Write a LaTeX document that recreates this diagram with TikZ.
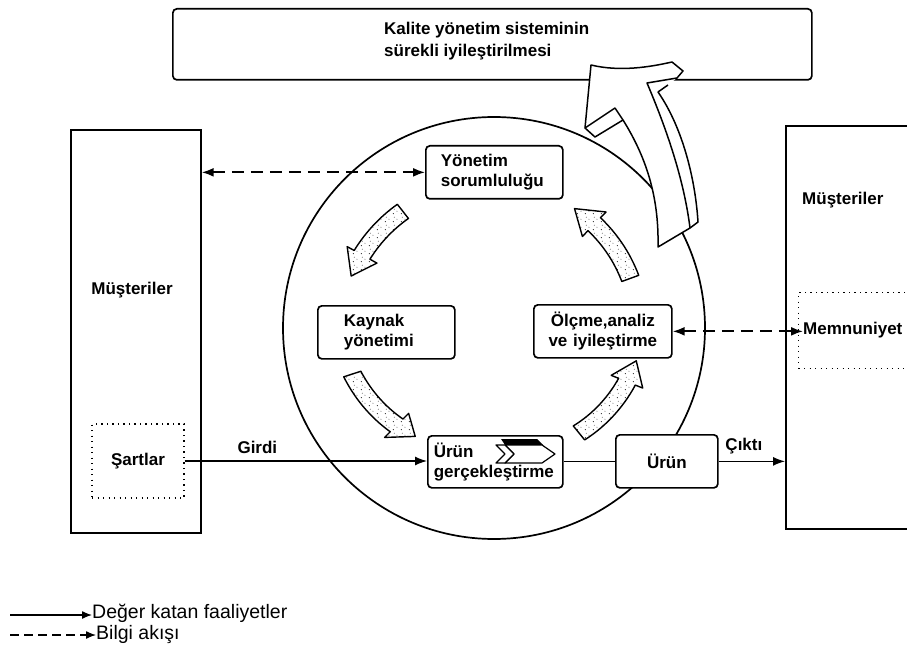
\documentclass[tikz,border=0pt]{standalone}
\usepackage{fontspec}
\setmainfont{Liberation Sans}
\usetikzlibrary{arrows.meta,patterns.meta}

\newcommand\boxfont{\fontsize{17}{20}\selectfont\bfseries}
\newcommand\titlefont{\fontsize{17}{22}\selectfont\bfseries}
\newcommand\keyfont{\fontsize{19.5}{23}\selectfont}

% sparse stipple used inside the curved cycle arrows
\tikzdeclarepattern{
  name=stipple,
  type=uncolored,
  bounding box={(0pt,0pt) and (8pt,8pt)},
  tile size={(8pt,8pt)},
  code={
    \pgfpathcircle{\pgfqpoint{1.5pt}{1.5pt}}{0.6pt}
    \pgfpathcircle{\pgfqpoint{5.5pt}{4.2pt}}{0.5pt}
    \pgfpathcircle{\pgfqpoint{2.6pt}{6.4pt}}{0.45pt}
    \pgfusepath{fill}
  }
}

% curved block arrow around the ring centre:
% #1 tail angle, #2 head-base angle, #3 tip angle, #4 tail radius, #5 tip radius
\newcommand\fatarc[5]{%
  \draw[stipplearrow]
    plot[domain=#1:#2, samples=16] ({\x}:{#4+(#5-#4)*(\x-(#1))/((#3)-(#1))+9})
    -- ({#2}:{#4+(#5-#4)*((#2)-(#1))/((#3)-(#1))+17})
    -- ({#3}:{#5})
    -- ({#2}:{#4+(#5-#4)*((#2)-(#1))/((#3)-(#1))-17})
    -- plot[domain=#2:#1, samples=16] ({\x}:{#4+(#5-#4)*(\x-(#1))/((#3)-(#1))-9})
    -- cycle;}

\begin{document}
\begin{tikzpicture}[x=1pt,y=-1pt,
  box/.style={draw, line width=1.7pt, rounded corners=4pt, fill=white,
              inner sep=0pt, font=\boxfont},
  plainbox/.style={draw, line width=1.7pt, inner sep=0pt},
  dotbox/.style={draw, line width=1.3pt, dash pattern=on 1.2pt off 4.3pt,
                 inner sep=0pt, font=\boxfont},
  lbl/.style={inner sep=0pt, font=\boxfont},
  flow/.style={line width=1.3pt},
  info/.style={line width=1.8pt, dash pattern=on 12pt off 7pt},
  tipf/.tip={Latex[length=12pt,width=9pt]},
  stipplearrow/.style={draw, line width=1.4pt, line join=round,
                       preaction={fill=white}, pattern=stipple, pattern color=black},
  bigarrow/.style={draw, line width=1.5pt, line join=round, fill=white}]

\useasboundingbox (0,0) rectangle (907,647);

% quality management system improvement banner
\node[box, anchor=north west, minimum width=639pt, minimum height=71pt] (kys) at (172,8) {};
\node[anchor=west, align=left, inner sep=0pt, font=\titlefont] (kystext) at (384,41)
  {Kalite yönetim sisteminin\\ sürekli iyileştirilmesi};

% process ring
\node[draw, circle, line width=1.7pt, minimum size=422pt, inner sep=0pt] (ring) at (494,328) {};

% customers (input side)
\node[plainbox, anchor=north west, minimum width=130pt, minimum height=403pt] (custL) at (70,129) {};
\node[lbl] (custLtext) at (132,290) {Müşteriler};
\node[dotbox, minimum width=92pt, minimum height=74pt] (req) at (138,461) {Şartlar};

% customers (output side)
\node[plainbox, anchor=north west, minimum width=170pt, minimum height=403pt] (custR) at (785,125) {};
\node[lbl, anchor=west] (custRtext) at (802,200) {Müşteriler};
\node[dotbox, anchor=north west, minimum width=150pt, minimum height=76pt] (sat) at (798,292) {};
\node[lbl, anchor=west] (satText) at (803,330) {Memnuniyet};

% continual improvement arrow leaving the ring
\fill[white] (647,83) .. controls (667,130) and (684,180) .. (690,228) -- (698,222)
  .. controls (695,175) and (681,125) .. (658,92) -- (668,85) -- (677,78) -- cycle;
\draw[bigarrow] (591,65) .. controls (620,72) and (650,67) .. (672,62) -- (683,71) -- (677,78)
  -- (647,83) .. controls (667,130) and (684,180) .. (690,228) -- (658,247)
  .. controls (659,200) and (648,160) .. (623,120) -- (595,137) -- (585,128) -- cycle;
\draw[line width=1.5pt, line join=round] (690,228) -- (698,222)
  .. controls (695,175) and (681,125) .. (658,92) -- (668,85);
\draw[line width=1.5pt, line join=round] (585,128) -- (615,108) -- (623,120);

% processes
\node[box, anchor=north west, text width=107pt, inner xsep=15pt, minimum height=53pt, align=left]
  (mgmt) at (425,145) {Yönetim\\sorumluluğu};
\node[box, anchor=north west, text width=85pt, inner xsep=26pt, minimum height=53pt, align=left]
  (res) at (317,305) {Kaynak\\yönetimi};
\node[box, anchor=north west, text width=122pt, inner xsep=8pt, minimum height=53pt, align=center]
  (meas) at (533,304) {Ölçme,analiz\\ve iyileştirme};
\node[box, anchor=north west, text width=123pt, inner xsep=6pt, minimum height=52pt, align=left]
  (real) at (427,435) {Ürün\\gerçekleştirme};
\node[box, anchor=north west, minimum width=102pt, minimum height=53pt] (prod) at (615,434) {Ürün};

% chevron icon in the realisation box
\fill (501,439) -- (537,439) -- (543,445) -- (505,445) -- cycle;
\draw[line width=1.2pt, line join=round, fill=white]
  (505,445) -- (542,445) -- (555,454) -- (542,463) -- (505,463) -- (514,454) -- cycle;
\draw[line width=1.2pt, line join=round, fill=white]
  (496,445) -- (505,445) -- (514,454) -- (505,463) -- (496,463) -- (505,454) -- cycle;

% cycle arrows inside the ring
\begin{scope}[shift={(ring.center)}]
  \fatarc{-128}{-151}{-160}{148}{152}
  \fatarc{-20}{-46}{-56}{145}{144}
  \fatarc{162}{135}{126}{149}{134}
  \fatarc{51}{22}{13}{135}{146}
\end{scope}

% value-adding flow
\draw[flow, -tipf] (req.east) -- (req.east -| real.west)
  node[lbl, pos=0.3, above=7pt] (inLbl) {Girdi};
\draw[flow] (real.east |- prod.west) -- (prod.west);
\draw[flow, -tipf] (prod.east) -- (prod.east -| custR.west)
  node[lbl, pos=0.38, above=7pt] (outLbl) {Çıktı};

% information flow
\draw[info, tipf-tipf] (custL.east |- mgmt.west) -- (mgmt.west);
\draw[info, tipf-tipf] (meas.east) -- (meas.east -| satText.west);

% key
\node[inner sep=0pt, anchor=west, font=\keyfont] (key1) at (92,613) {Değer katan faaliyetler};
\node[inner sep=0pt, anchor=west, font=\keyfont] (key2) at (96,634) {Bilgi akışı};
\coordinate (key1s) at (10,615);
\coordinate (key2s) at (10,635);
\draw[line width=1.3pt, -{Latex[length=10pt,width=8pt]}] (key1s) -- (key1s -| key1.west);
\draw[line width=1.3pt, dash pattern=on 9pt off 5pt, -{Latex[length=10pt,width=8pt]}]
  (key2s) -- (key2s -| key2.west);

\end{tikzpicture}
\end{document}
